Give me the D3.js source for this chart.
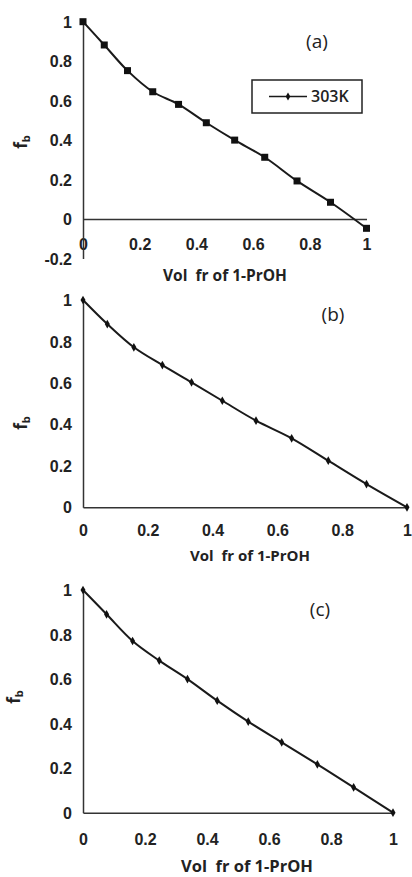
<!DOCTYPE html>
<html lang="en">
<head>
    <meta charset="UTF-8">
    <title>fb vs vol fr of 1-PrOH</title>
    <script src="https://cdnjs.cloudflare.com/ajax/libs/d3/7.8.5/d3.min.js"></script>
    <style>
        body { margin: 0; background: #fff; }
        svg { display: block; font-family: "Open Sans", sans-serif; }
        .axis path { stroke: #333; stroke-width: 1.5px; }
        .axis text { font-size: 16px; font-weight: 600; fill: #222; }
        .ttl { font-weight: 700; fill: #222; white-space: pre; }
    </style>
</head>
<body>
<svg width="412" height="877"></svg>
<script>
    // panel (a)
    var xA = [0, 0.075, 0.157, 0.246, 0.337, 0.435, 0.535, 0.641, 0.755, 0.873, 1];
    var yA = [1, 0.882, 0.752, 0.645, 0.581, 0.488, 0.400, 0.313, 0.193, 0.085, -0.047];
    // panel (b)
    var xB = [0, 0.075, 0.157, 0.245, 0.335, 0.430, 0.534, 0.644, 0.757, 0.875, 1];
    var yB = [1, 0.884, 0.772, 0.686, 0.603, 0.514, 0.418, 0.333, 0.225, 0.112, 0];
    // panel (c)
    var xC = [0, 0.076, 0.160, 0.246, 0.337, 0.433, 0.533, 0.641, 0.756, 0.873, 1];
    var yC = [1, 0.891, 0.771, 0.683, 0.600, 0.503, 0.409, 0.316, 0.217, 0.114, 0];

    var xTicks = [0, 0.2, 0.4, 0.6, 0.8, 1];
    var yTicksA = [-0.2, 0, 0.2, 0.4, 0.6, 0.8, 1];
    var yTicks = [0, 0.2, 0.4, 0.6, 0.8, 1];
    var legendLabel = "303K";

    var svg = d3.select("svg");
    // plain hyphen for negatives, like the original
    var fmt = function (d) { return String(+d.toFixed(1)); };

    var panels = [
        {xs: xA, ys: yA, yt: yTicksA, yDom: [-0.2, 1], xr: [83, 366.5], yr: [258.5, 21.7], pad: 20,
         tag: "(a)", tagX: 317, tagY: 48, titleX: 225, titleY: 281, fbX: 22, fbY: 142, fs: 15.5, square: true},
        {xs: xB, ys: yB, yt: yTicks, yDom: [0, 1], xr: [83, 407], yr: [507.3, 300], pad: 17,
         tag: "(b)", tagX: 333, tagY: 321, titleX: 250, titleY: 561, fbX: 22, fbY: 423, fs: 15, square: false},
        {xs: xC, ys: yC, yt: yTicks, yDom: [0, 1], xr: [83, 393], yr: [812.7, 590], pad: 21,
         tag: "(c)", tagX: 320, tagY: 616, titleX: 247, titleY: 872, fbX: 15, fbY: 697, fs: 16.5, square: false}
    ];

    panels.forEach(function (p) {
        var x = d3.scaleLinear().domain([0, 1]).range(p.xr);
        var y = d3.scaleLinear().domain(p.yDom).range(p.yr);
        var g = svg.append("g");

        g.append("g").attr("class", "axis")
            .attr("transform", "translate(0," + y(0) + ")")
            .call(d3.axisBottom(x).tickValues(xTicks).tickSize(0).tickPadding(p.pad).tickFormat(fmt));

        g.append("g").attr("class", "axis")
            .attr("transform", "translate(" + x(0) + ",0)")
            .call(d3.axisLeft(y).tickValues(p.yt).tickSize(0).tickPadding(11).tickFormat(fmt))
            .selectAll("text").attr("dy", "0.35em");

        var pts = p.xs.map(function (d, i) { return [d, p.ys[i]]; });

        g.append("path")
            .datum(pts)
            .attr("fill", "none")
            .attr("stroke", "#1a1a1a")
            .attr("stroke-width", 2)
            .attr("d", d3.line()
                .x(function (d) { return x(d[0]); })
                .y(function (d) { return y(d[1]); })
                .curve(d3.curveCatmullRom));

        if (p.square) {
            g.selectAll(".pt").data(pts).enter().append("rect")
                .attr("x", function (d) { return x(d[0]) - 3.5; })
                .attr("y", function (d) { return y(d[1]) - 3.5; })
                .attr("width", 7).attr("height", 7)
                .attr("fill", "#111");
        } else {
            g.selectAll(".pt").data(pts).enter().append("path")
                .attr("transform", function (d) { return "translate(" + x(d[0]) + "," + y(d[1]) + ")"; })
                .attr("d", d3.symbol(d3.symbolDiamond, 22))
                .attr("fill", "#111");
        }

        g.append("text").attr("class", "ttl")
            .attr("x", p.tagX).attr("y", p.tagY)
            .attr("text-anchor", "middle")
            .style("font-weight", 400).style("font-size", "19px")
            .text(p.tag);

        g.append("text").attr("class", "ttl")
            .attr("x", p.titleX).attr("y", p.titleY)
            .attr("text-anchor", "middle")
            .style("font-size", p.fs + "px")
            .text("Vol  fr of 1-PrOH");

        var fb = g.append("text").attr("class", "ttl")
            .attr("transform", "translate(" + (p.fbX + 5) + "," + p.fbY + ") rotate(-90)")
            .attr("text-anchor", "middle")
            .style("font-size", "17px");
        fb.append("tspan").text("f");
        fb.append("tspan").attr("dy", "0.3em").style("font-size", "11px").text("b");
    });

    // legend in panel (a)
    var leg = svg.append("g");
    leg.append("rect")
        .attr("x", 252).attr("y", 80).attr("width", 110).attr("height", 33)
        .attr("fill", "#fff").attr("stroke", "#222").attr("stroke-width", 1.5);
    leg.append("line")
        .attr("x1", 269).attr("x2", 307).attr("y1", 96.5).attr("y2", 96.5)
        .attr("stroke", "#1a1a1a").attr("stroke-width", 1.5);
    leg.append("path")
        .attr("transform", "translate(288,96.5)")
        .attr("d", d3.symbol(d3.symbolDiamond, 18))
        .attr("fill", "#111");
    leg.append("text").attr("class", "ttl")
        .attr("x", 311).attr("y", 102)
        .style("font-size", "16px").style("font-weight", 600)
        .text(legendLabel);
</script>
</body>
</html>
